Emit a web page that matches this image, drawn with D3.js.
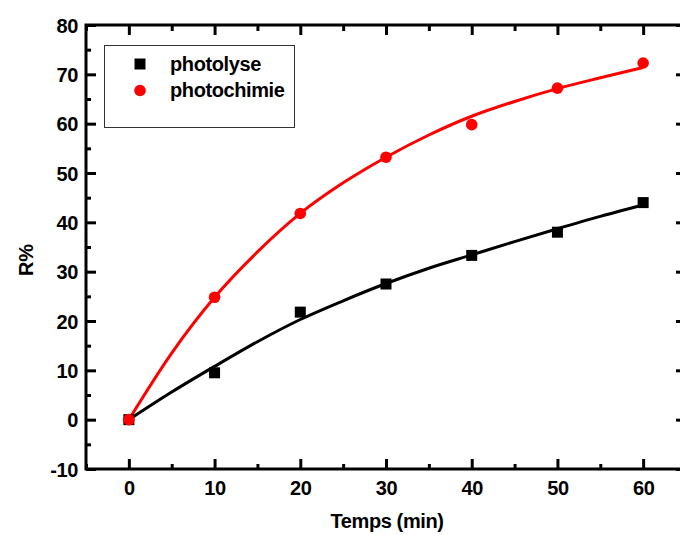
<!DOCTYPE html>
<html>
<head>
<meta charset="utf-8">
<script src="https://cdn.jsdelivr.net/npm/d3@7"></script>
<style>
  body { margin: 0; background: #fff; }
  svg { display: block; font-family: "Liberation Sans", Arial, sans-serif; font-weight: bold; }
</style>
</head>
<body>
<div id="app"></div>
<script>
// measured points
let temps = [0, 10, 20, 30, 40, 50, 60];
let photolyse = [0, 9.5, 21.8, 27.5, 33.3, 38.0, 44.0];
let photochimie = [0, 24.8, 41.8, 53.2, 59.8, 67.2, 72.3];

// fitted curves, every 5 min
let fitTemps = [0, 5, 10, 15, 20, 25, 30, 35, 40, 45, 50, 55, 60];
let fitPhotolyse = [0, 5.6, 10.8, 15.8, 20.3, 24.1, 27.6, 30.7, 33.4, 36.1, 38.7, 41.2, 43.5];
let fitPhotochimie = [0, 13.5, 24.8, 34.0, 41.8, 48.0, 53.2, 57.7, 61.5, 64.5, 67.1, 69.3, 71.4];

let xMajor = [0, 10, 20, 30, 40, 50, 60];
let xMinor = [-5, 5, 15, 25, 35, 45, 55, 65];
let yMajor = [-10, 0, 10, 20, 30, 40, 50, 60, 70, 80];
let yMinor = [-5, 5, 15, 25, 35, 45, 55, 65, 75];

let legendLabels = ['photolyse', 'photochimie'];

let W = 680, H = 535;
let margin = { left: 86, top: 25 };
let w = 600, h = 444;

let svg = d3.select('#app').append('svg')
  .attr('width', W)
  .attr('height', H);

let g = svg.append('g')
  .attr('transform', 'translate(' + margin.left + ',' + margin.top + ')');

let xScale = d3.scaleLinear().domain([-5, 65]).range([0, w]);
let yScale = d3.scaleLinear().domain([-10, 80]).range([h, 0]);

let fmt = (d) => String(d); // plain hyphen for negatives, like the original

function styleAxis(sel) {
  sel.select('.domain').remove();
  sel.selectAll('line').attr('stroke', '#000').attr('stroke-width', 3);
}
function styleText(sel) {
  sel.selectAll('text').attr('font-size', 20)
    .attr('font-family', '"Liberation Sans", Arial, sans-serif')
    .attr('font-weight', 'bold').attr('fill', '#000')
    .attr('letter-spacing', -0.4);
}

// bottom axis (ticks inward)
let xb = g.append('g').attr('transform', 'translate(0,' + h + ')')
  .call(d3.axisBottom(xScale).tickValues(xMajor).tickSizeInner(-10).tickSizeOuter(0).tickFormat(fmt));
styleAxis(xb);
styleText(xb);
xb.selectAll('text').attr('y', 26).attr('dy', 0);
let xbm = g.append('g').attr('transform', 'translate(0,' + h + ')')
  .call(d3.axisBottom(xScale).tickValues(xMinor).tickSizeInner(-5).tickSizeOuter(0).tickFormat(''));
styleAxis(xbm);

// top axis
let xt = g.append('g')
  .call(d3.axisTop(xScale).tickValues(xMajor).tickSizeInner(-10).tickSizeOuter(0).tickFormat(''));
styleAxis(xt);
let xtm = g.append('g')
  .call(d3.axisTop(xScale).tickValues(xMinor).tickSizeInner(-6).tickSizeOuter(0).tickFormat(''));
styleAxis(xtm);

// left axis
let yl = g.append('g')
  .call(d3.axisLeft(yScale).tickValues(yMajor).tickSizeInner(-10).tickSizeOuter(0).tickFormat(fmt));
styleAxis(yl);
styleText(yl);
yl.selectAll('text').attr('x', -8).attr('dy', '0.36em');
let ylm = g.append('g')
  .call(d3.axisLeft(yScale).tickValues(yMinor).tickSizeInner(-5).tickSizeOuter(0).tickFormat(''));
styleAxis(ylm);

// right axis
let yr = g.append('g').attr('transform', 'translate(' + w + ',0)')
  .call(d3.axisRight(yScale).tickValues(yMajor).tickSizeInner(-10).tickSizeOuter(0).tickFormat(''));
styleAxis(yr);
let yrm = g.append('g').attr('transform', 'translate(' + w + ',0)')
  .call(d3.axisRight(yScale).tickValues(yMinor).tickSizeInner(-5).tickSizeOuter(0).tickFormat(''));
styleAxis(yrm);

// frame
g.append('rect')
  .attr('x', 0).attr('y', 0).attr('width', w).attr('height', h)
  .attr('fill', 'none').attr('stroke', '#000').attr('stroke-width', 3);

// fit lines
let ln = d3.line()
  .curve(d3.curveMonotoneX)
  .x((d) => xScale(d[0]))
  .y((d) => yScale(d[1]));

g.append('path')
  .attr('d', ln(fitTemps.map((t, i) => [t, fitPhotolyse[i]])))
  .attr('fill', 'none').attr('stroke', '#000').attr('stroke-width', 3);
g.append('path')
  .attr('d', ln(fitTemps.map((t, i) => [t, fitPhotochimie[i]])))
  .attr('fill', 'none').attr('stroke', '#ff0000').attr('stroke-width', 3);

// markers
g.selectAll('rect.sq').data(temps).enter().append('rect')
  .attr('class', 'sq')
  .attr('x', (d) => xScale(d) - 5.5)
  .attr('y', (d, i) => yScale(photolyse[i]) - 5.5)
  .attr('width', 11).attr('height', 11)
  .attr('fill', '#000');
g.selectAll('circle.ci').data(temps).enter().append('circle')
  .attr('class', 'ci')
  .attr('cx', (d) => xScale(d))
  .attr('cy', (d, i) => yScale(photochimie[i]))
  .attr('r', 5.8)
  .attr('fill', '#ff0000');

// legend
let lg = svg.append('g');
lg.append('rect')
  .attr('x', 104.5).attr('y', 45.5).attr('width', 190).attr('height', 82)
  .attr('fill', '#fff').attr('stroke', '#333').attr('stroke-width', 1);
lg.append('rect').attr('x', 134.5).attr('y', 58.5).attr('width', 11).attr('height', 11).attr('fill', '#000');
lg.append('circle').attr('cx', 140).attr('cy', 90.5).attr('r', 5.8).attr('fill', '#ff0000');
lg.selectAll('text').data(legendLabels).enter().append('text')
  .attr('x', 170)
  .attr('y', (d, i) => 71 + i * 26)
  .attr('font-size', 20)
  .attr('letter-spacing', -0.4)
  .attr('fill', '#000')
  .text((d) => d);

// axis titles
svg.append('text')
  .attr('x', 387).attr('y', 528)
  .attr('text-anchor', 'middle')
  .attr('font-size', 20)
  .attr('letter-spacing', -0.4)
  .text('Temps (min)');
svg.append('text')
  .attr('transform', 'translate(33,260) rotate(-90)')
  .attr('text-anchor', 'middle')
  .attr('font-size', 20)
  .text('R%');
</script>
</body>
</html>
